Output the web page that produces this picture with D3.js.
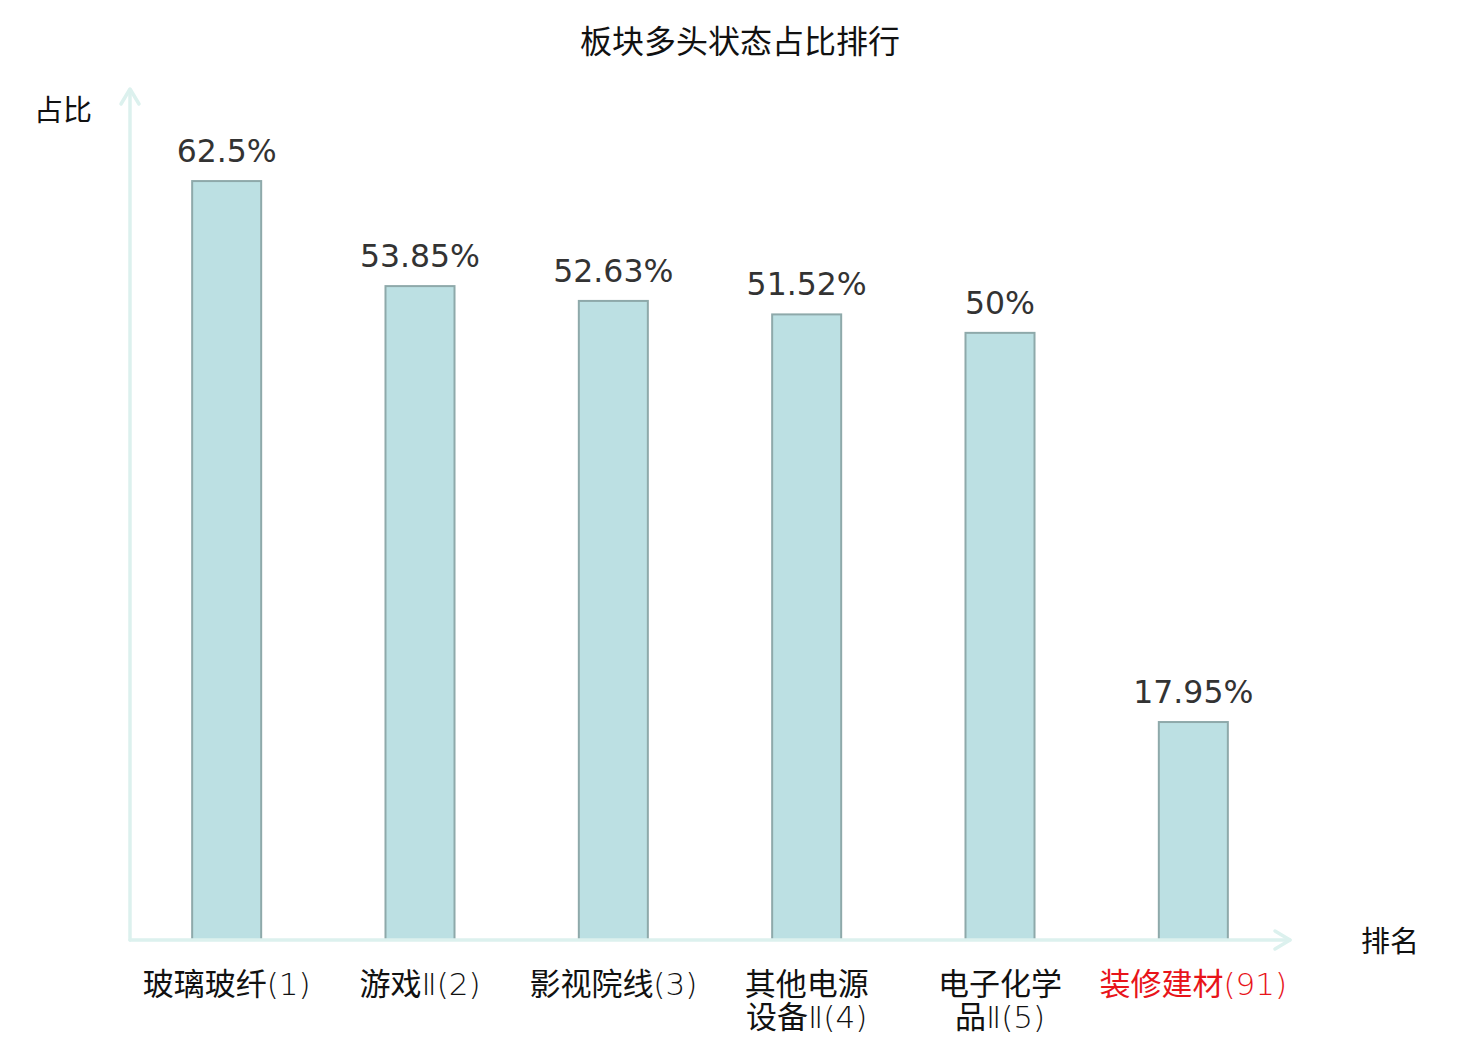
<!DOCTYPE html>
<html>
<head>
<meta charset="utf-8">
<script src="https://cdn.jsdelivr.net/npm/d3@7"></script>
<style>
  body { margin: 0; background: #fff; }
</style>
</head>
<body>
<div id="chart"></div>
<script>
const categories = ["玻璃玻纤(1)", "游戏Ⅱ(2)", "影视院线(3)", "其他电源设备Ⅱ(4)", "电子化学品Ⅱ(5)", "装修建材(91)"]
const values = [62.5, 53.85, 52.63, 51.52, 50, 17.95]
const valueLabels = ["62.5%", "53.85%", "52.63%", "51.52%", "50%", "17.95%"]
const highlight = ["装修建材(91)"]

const width = 1480
const height = 1040
const margin = { top: 90, right: 190, bottom: 100, left: 130 }
const axisColor = "#dcf1ee"
const fontStack = '"DejaVu Sans", "Noto Sans CJK SC", sans-serif'

const svg = d3.select("#chart")
    .append("svg")
    .attr("width", width)
    .attr("height", height)
    .style("font-family", fontStack)

const x = d3.scaleBand()
    .domain(categories)
    .range([margin.left, width - margin.right])
    .paddingInner(0.643)
    .paddingOuter(0.3215)

const y = d3.scaleLinear()
    .domain([0, 70])
    .range([height - margin.bottom, margin.top])

// title
svg.append("text")
    .attr("x", width / 2)
    .attr("y", 53)
    .attr("text-anchor", "middle")
    .attr("font-size", 32)
    .attr("fill", "#111")
    .text("板块多头状态占比排行")

// bars
svg.selectAll("rect.bar")
    .data(values)
    .enter()
    .append("rect")
    .attr("class", "bar")
    .attr("x", (d, i) => x(categories[i]))
    .attr("y", d => y(d))
    .attr("width", x.bandwidth())
    .attr("height", d => y(0) - y(d))
    .attr("fill", "#bce0e3")
    .attr("stroke", "#8ea9aa")
    .attr("stroke-width", 2)

// value labels
svg.selectAll("text.val")
    .data(values)
    .enter()
    .append("text")
    .attr("class", "val")
    .attr("x", (d, i) => x(categories[i]) + x.bandwidth() / 2)
    .attr("y", d => y(d) - 19)
    .attr("text-anchor", "middle")
    .attr("font-size", 31.5)
    .attr("fill", "#333")
    .text((d, i) => valueLabels[i])

// axes with open arrow heads
const x0 = margin.left
const yBase = y(0)
const xEnd = width - margin.right
const yTop = margin.top

const axes = svg.append("g")
    .attr("fill", "none")
    .attr("stroke", axisColor)
    .attr("stroke-width", 3.5)
    .attr("stroke-linecap", "round")
    .attr("stroke-linejoin", "round")

axes.append("path").attr("d", `M${x0},${yBase}V${yTop}`)
axes.append("path").attr("d", `M${x0 - 9},${yTop + 14}L${x0},${yTop - 1}L${x0 + 9},${yTop + 14}`)
axes.append("path").attr("d", `M${x0},${yBase}H${xEnd}`)
axes.append("path").attr("d", `M${xEnd - 15},${yBase - 9}L${xEnd},${yBase}L${xEnd - 15},${yBase + 9}`)

// axis names
svg.append("text")
    .attr("x", 34)
    .attr("y", 121)
    .attr("font-size", 29)
    .attr("fill", "#111")
    .text("占比")

svg.append("text")
    .attr("x", 1361)
    .attr("y", 952)
    .attr("font-size", 29)
    .attr("fill", "#111")
    .text("排名")

// category labels, long names wrap after four characters;
// han characters regular, digits / brackets / numerals light
const ticks = svg.selectAll("g.tick")
    .data(categories)
    .enter()
    .append("g")
    .attr("class", "tick")
    .attr("transform", d => `translate(${x(d) + x.bandwidth() / 2},995)`)

ticks.each(function(d) {
    const lines = d.length > 8 ? [d.slice(0, 4), d.slice(4)] : [d]
    lines.forEach((line, i) => {
        const t = d3.select(this).append("text")
            .attr("y", i * 33)
            .attr("text-anchor", "middle")
            .attr("font-size", 31)
            .attr("fill", highlight.includes(d) ? "#e8141a" : "#111")
        line.match(/[\u4e00-\u9fff]+|[^\u4e00-\u9fff]+/g).forEach(run => {
            t.append("tspan")
                .attr("font-weight", /[\u4e00-\u9fff]/.test(run) ? 400 : 200)
                .text(run)
        })
    })
})
</script>
</body>
</html>
